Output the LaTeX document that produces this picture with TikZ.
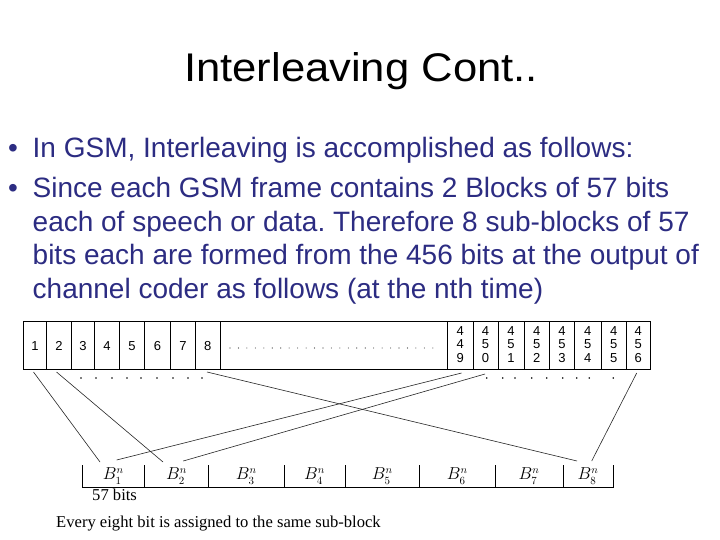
\documentclass[tikz,border=0pt]{standalone}
\usepackage{fontspec}
\setmainfont{Liberation Sans}
\newfontfamily\seriffont{Liberation Serif}
\definecolor{navy}{RGB}{44,44,130}
\frenchspacing
\begin{document}
\begin{tikzpicture}[x=1pt,y=-1pt,
  bodytext/.style={inner sep=0pt, anchor=base west, text=navy, font=\fontsize{28}{33.5}\selectfont},
  digit/.style={inner sep=0pt, font=\fontsize{13}{13.5}\selectfont, align=center},
  blabel/.style={inner sep=0pt, font=\fontsize{16}{18}\selectfont},
  cellline/.style={line width=1pt, black},
  link/.style={line width=0.6pt, black!85},
  note/.style={inner sep=0pt, anchor=base west, font=\seriffont\fontsize{16.6}{19}\selectfont}]
\useasboundingbox (0,0) rectangle (720,540);
\fill[white] (0,0) rectangle (720,540);

% title
\node[inner sep=0pt, anchor=base] (title) at (361,82)
  {\fontsize{40}{48}\selectfont\scalebox{1.09}[1]{Interleaving Cont..}};

% bullets
\node[bodytext] (dot1) at (8,157.5) {•};
\node[bodytext] (line1) at (32.5,157.5) {In GSM, Interleaving is accomplished as follows:};
\node[bodytext] (dot2) at (8,197.5) {•};
\node[bodytext] (line2) at (32.5,197.5) {Since each GSM frame contains 2 Blocks of 57 bits};
\node[bodytext] (line3) at (32.5,231) {each of speech or data. Therefore 8 sub-blocks of 57};
\node[bodytext] (line4) at (32.5,264.5) {bits each are formed from the 456 bits at the output of};
\node[bodytext] (line5) at (32.5,298) {channel coder as follows (at the nth time)};

% top frame of 456 bits
\draw[cellline] (23.5,321) rectangle (650,369);
\foreach \x in {46.5,71.5,94.5,119.5,144.5,170.5,195.5,220,447.5,473,498,524,549.5,574.5,601,626.5}
  \draw[cellline] (\x,321) -- (\x,369);
\foreach \a/\b/\t in {23.5/46.5/1,46.5/71.5/2,71.5/94.5/3,94.5/119.5/4,119.5/144.5/5,144.5/170.5/6,170.5/195.5/7,195.5/220/8}
  \node[digit] (n\t) at ({(\a+\b)/2},346) {\t};
\foreach \a/\b/\p/\q/\r in {447.5/473/4/4/9,473/498/4/5/0,498/524/4/5/1,524/549.5/4/5/2,549.5/574.5/4/5/3,574.5/601/4/5/4,601/626.5/4/5/5,626.5/650/4/5/6}
  \node[digit] (n\p\q\r) at ({(\a+\b)/2},344.5) {\p\\\q\\\r};
\foreach \k in {0,...,24}
  \fill[black!80] (230+\k*8.45,348) circle (0.55);

% dots below the frame
\foreach \x in {81,96,112,127,141,157,173,188,202,486.7,502.7,515,531.7,546.7,562.7,576.7,589.3,613.3}
  \fill (\x,378) circle (0.9);

% sub-blocks
\draw[cellline] (82,465) -- (82,487) -- (613,487) -- (613,465);
\foreach \x in {144.5,208.5,284,345,419.5,495,563}
  \draw[cellline] (\x,465) -- (\x,487);
\foreach \a/\b/\i in {82/144.5/1,144.5/208.5/2,208.5/284/3,284/345/4,345/419.5/5,419.5/495/6,495/563/7,563/613/8}
  \node[blabel] (B\i) at ({(\a+\b)/2},476) {$B^n_{\i}$};

\node[note] (bits) at (92,500) {57 bits};
\node[note] (every) at (56,527) {Every eight bit is assigned to the same sub-block};

% connector ends
\coordinate (s1) at (33.5,372);
\coordinate (s2) at (56.5,372);
\coordinate (s8) at (207,372);
\coordinate (s449) at (461.5,373);
\coordinate (s450) at (485,374);
\coordinate (s456) at (636.7,373);
\coordinate (e1a) at (100,462);
\coordinate (e1b) at (116.7,460);
\coordinate (e2a) at (163,462);
\coordinate (e2b) at (183.3,461);
\coordinate (e8a) at (577,461);
\coordinate (e8b) at (591.7,461);

\draw[link] (s1) -- (e1a);
\draw[link] (s2) -- (e2a);
\draw[link] (s8) -- (e8a);
\draw[link] (s449) -- (e1b);
\draw[link] (s450) -- (e2b);
\draw[link] (s456) -- (e8b);
\end{tikzpicture}
\end{document}
